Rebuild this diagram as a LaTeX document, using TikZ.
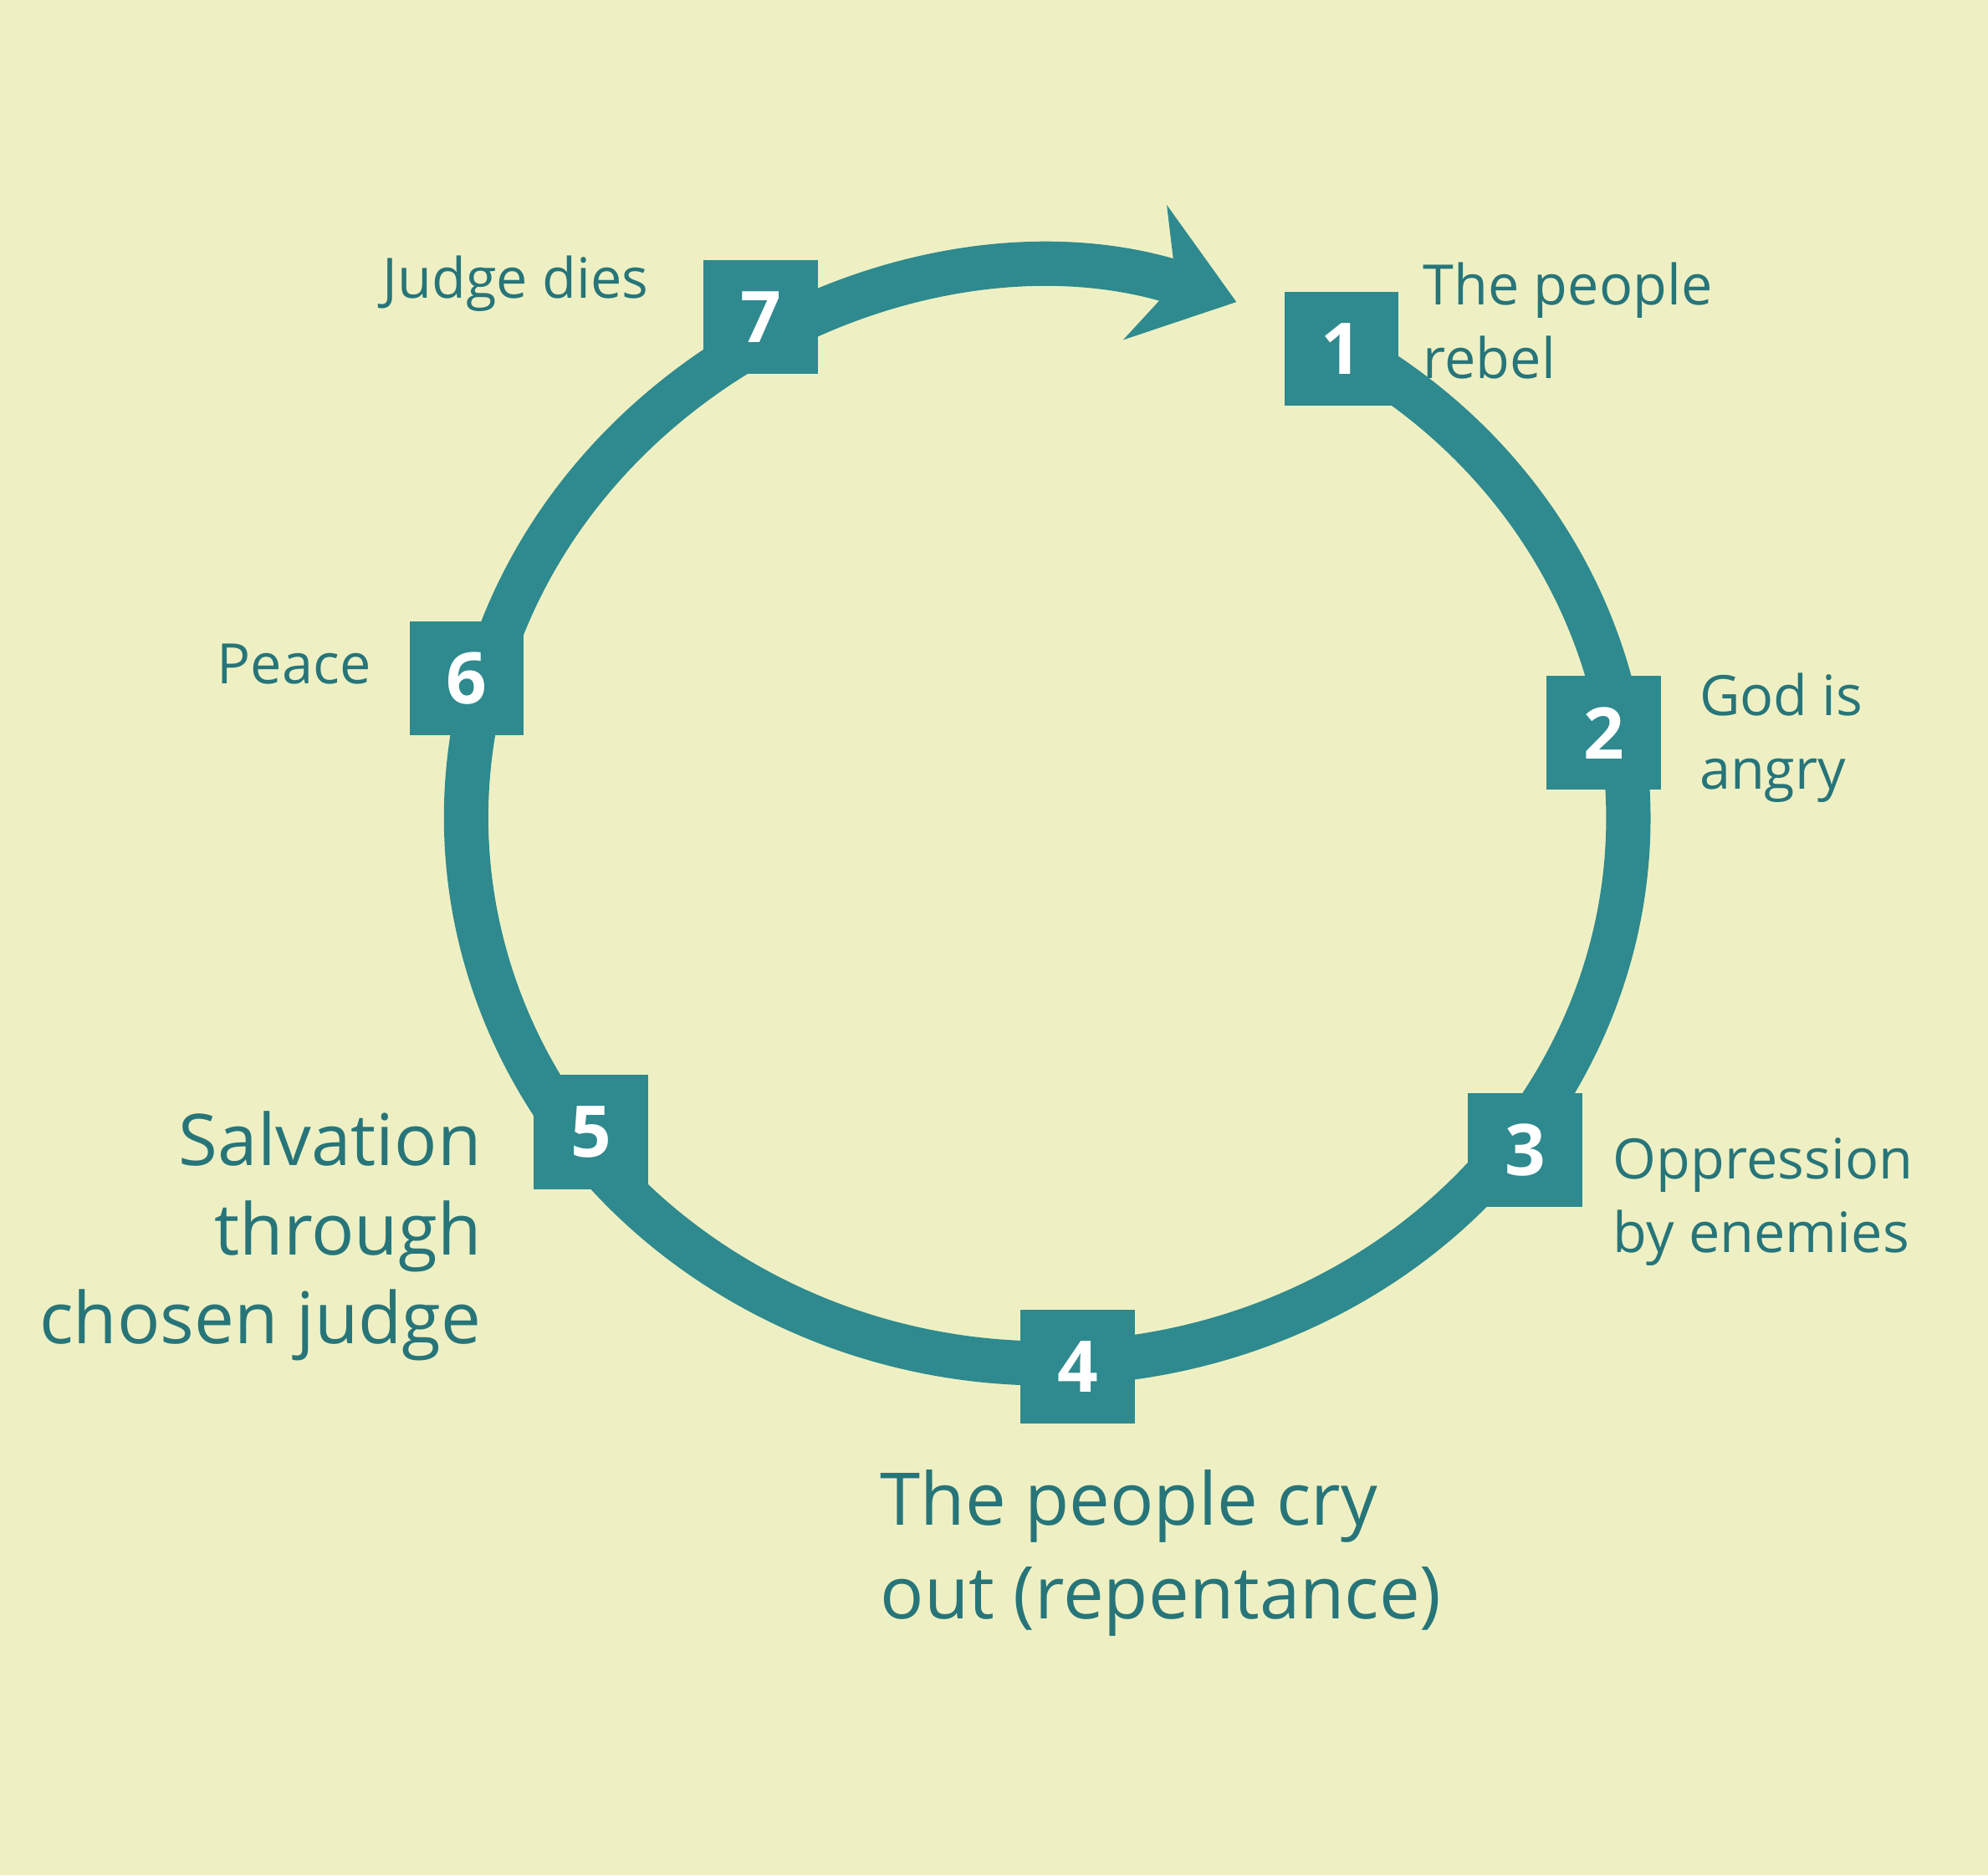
\documentclass[tikz,border=0pt]{standalone}
\usepackage{fontspec}
\setmainfont{Open Sans}
\usetikzlibrary{arrows.meta}
\definecolor{bg}{HTML}{EEF0C4}
\definecolor{teal}{HTML}{2E8A8E}
\tikzset{
 numbox/.style={fill=teal,minimum size=0.9cm,inner sep=0pt,text=white,font=\bfseries\fontsize{16}{16}\selectfont},
 lbl/.style={text=teal!85!black,font=\fontsize{12.5}{16.5}\selectfont},
 biglbl/.style={text=teal!85!black,font=\fontsize{16}{20}\selectfont},
}
\begin{document}
\begin{tikzpicture}[x=0.01cm,y=0.01cm]
\fill[bg] (0,0) rectangle (1568,-1479);
\useasboundingbox (0,0) rectangle (1568,-1479);
\coordinate (c) at (826,-645);
\draw[teal,line width=0.35cm,-{Stealth[length=0.75cm,width=1.1cm,inset=0.25cm]}]
  (c) ++(60:4.58cm and 4.3cm) arc[start angle=60,end angle=-289,x radius=4.58cm,y radius=4.3cm];
\node[numbox] (n7) at (600,-250) {7};
\node[numbox] (n1) at (1058,-275) {1};
\node[numbox] (n2) at (1265,-578) {2};
\node[numbox] (n3) at (1203,-907) {3};
\node[numbox] (n4) at (850,-1078) {4};
\node[numbox] (n5) at (466,-893) {5};
\node[numbox] (n6) at (368,-535) {6};
\node[lbl,anchor=east] (l7) at (524,-224) {Judge dies};
\node[lbl,anchor=west,align=left] (l1) at (1110,-253) {The people\\rebel};
\node[lbl,anchor=west,align=left] (l2) at (1328,-582) {God is\\angry};
\node[lbl,anchor=west,align=left] (l3) at (1260,-948) {Oppression\\by enemies};
\node[biglbl,anchor=west,align=left,font=\fontsize{16.3}{21}\selectfont] (l4) at (682,-1225) {The people cry\\out (repentance)};
\node[biglbl,anchor=east,align=right] (l5) at (392,-975) {Salvation\\through\\chosen judge};
\node[lbl,anchor=east] (l6) at (305,-524) {Peace};
\end{tikzpicture}
\end{document}
